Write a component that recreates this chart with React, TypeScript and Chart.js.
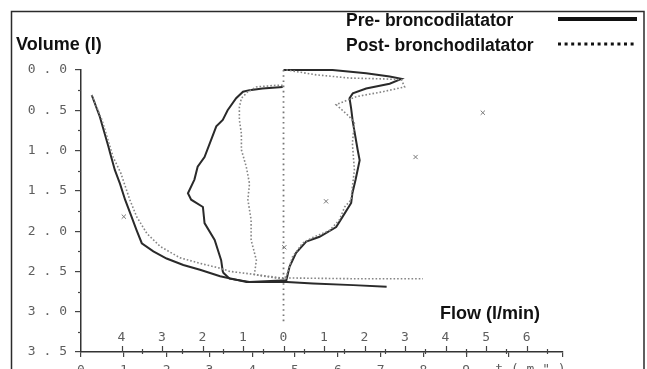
import React, { useEffect, useRef } from 'react';
import { Chart, registerables } from 'chart.js';
Chart.register(...registerables);

// ---- axis ticks / labels ----
const volumeTicks = [0, 0.5, 1, 1.5, 2, 2.5, 3, 3.5];
const flowTickValues = [-4, -3, -2, -1, 0, 1, 2, 3, 4, 5, 6];
const flowTickLabels = ['4', '3', '2', '1', '0', '1', '2', '3', '4', '5', '6'];
const timeTickValues = [0, 1, 2, 3, 4, 5, 6, 7, 8, 9];
const timeUnitLabel = 't(m")';
const yTitle = 'Volume (l)';
const xTitle = 'Flow (l/min)';
const legendLabels = ['Pre- broncodilatator', 'Post- bronchodilatator'];

// ---- pre-bronchodilator flow-volume loop (solid) ----
const preLoopFlow = [0.0, 1.21, 2.04, 2.62, 2.91, 2.62, 2.04, 1.71, 1.63, 1.67, 1.71, 1.83, 1.88, 1.78, 1.7, 1.67, 1.46, 1.3, 0.89, 0.56, 0.31, 0.15, 0.07,
  -0.84, -1.33, -1.48, -1.5, -1.54, -1.7, -1.95, -1.99, -2.28, -2.36, -2.2, -2.12, -1.95, -1.79, -1.66, -1.5, -1.38, -1.17, -1.0, -0.84, -0.52, -0.02];
const preLoopVol = [0.0, 0.0, 0.04, 0.08, 0.11, 0.17, 0.23, 0.29, 0.35, 0.48, 0.64, 0.99, 1.12, 1.36, 1.53, 1.65, 1.82, 1.95, 2.07, 2.13, 2.27, 2.44, 2.61,
  2.63, 2.59, 2.52, 2.5, 2.36, 2.11, 1.9, 1.7, 1.61, 1.53, 1.36, 1.2, 1.08, 0.87, 0.7, 0.62, 0.5, 0.35, 0.27, 0.25, 0.23, 0.21];

// ---- post-bronchodilator flow-volume loop (dotted) ----
const postLoopFlow = [0.07, 0.81, 1.63, 2.44, 2.91, 2.99, 2.45, 1.8, 1.3, 1.63, 1.75, 1.7, 1.75, 1.7, 1.67, 1.51, 1.38, 1.14, 0.72, 0.47, 0.22, 0.1, 0.02,
  -0.22, -0.72, -0.67, -0.8, -0.8, -0.88, -0.84, -0.92, -1.04, -1.04, -1.09, -1.09, -1.04, -0.88, -0.67, -0.18, -0.02];
const postLoopVol = [0.0, 0.06, 0.1, 0.11, 0.12, 0.21, 0.27, 0.33, 0.43, 0.58, 0.66, 0.91, 1.24, 1.45, 1.61, 1.7, 1.86, 1.99, 2.08, 2.15, 2.32, 2.52, 2.59,
  2.58, 2.54, 2.36, 2.11, 1.86, 1.61, 1.41, 1.2, 0.99, 0.79, 0.62, 0.46, 0.35, 0.27, 0.21, 0.19, 0.19];

// ---- volume-time curves ----
const preTime = [0.25, 0.44, 0.64, 0.68, 0.79, 0.91, 1.03, 1.18, 1.3, 1.42, 1.69, 2.0, 2.39, 2.78, 3.25, 3.87, 4.81, 5.42, 6.36, 7.14];
const preTimeVol = [0.31, 0.58, 0.95, 1.03, 1.24, 1.41, 1.61, 1.82, 1.99, 2.15, 2.25, 2.34, 2.42, 2.48, 2.56, 2.63, 2.63, 2.65, 2.67, 2.69];
const postTime = [0.25, 0.49, 0.75, 0.93, 1.14, 1.3, 1.54, 1.85, 2.31, 2.78, 3.25, 3.48, 4.1, 4.65, 6.28, 7.99];
const postTimeVol = [0.31, 0.62, 1.08, 1.28, 1.61, 1.82, 2.03, 2.19, 2.33, 2.4, 2.46, 2.5, 2.54, 2.58, 2.59, 2.59];

// ---- predicted-value markers ----
const predFlow = [0.02, 1.05, 3.26, 4.92];
const predFlowVol = [2.2, 1.63, 1.08, 0.53];
const predTime = [1.0];
const predTimeVol = [1.82];

// ---- zero-flow reference line ----
const zeroFlow = [0, 0];
const zeroFlowVol = [0, 3.15];

const pts = (xs: number[], ys: number[]) => xs.map((x, i) => ({ x, y: ys[i] }));

const SOLID = '#2a2a2a';
const DOT = '#858585';
const TICK_FONT = '"DejaVu Sans Mono", monospace';
const TITLE_FONT = '"Liberation Sans", Arial, sans-serif';

const decorPlugin = {
  id: 'decor',
  afterDraw(chart: any) {
    const ctx = chart.ctx;
    const xf = chart.scales.x;
    const y = chart.scales.y;
    const t = chart.scales.t;
    const area = chart.chartArea;
    ctx.save();
    // frame
    ctx.strokeStyle = '#2b2b2b';
    ctx.lineWidth = 1.5;
    ctx.beginPath();
    ctx.moveTo(11.5, 400);
    ctx.lineTo(11.5, 11.5);
    ctx.lineTo(644, 11.5);
    ctx.lineTo(644, 400);
    ctx.stroke();

    // minor y ticks
    ctx.strokeStyle = '#444';
    ctx.lineWidth = 1.2;
    for (let i = 0; i < volumeTicks.length - 1; i++) {
      const v = (volumeTicks[i] + volumeTicks[i + 1]) / 2;
      const py = Math.round(y.getPixelForValue(v)) + 0.5;
      ctx.beginPath();
      ctx.moveTo(area.left - 3, py);
      ctx.lineTo(area.left, py);
      ctx.stroke();
    }

    // flow ticks above the bottom axis
    const by = area.bottom;
    flowTickValues.forEach((v) => {
      const px = Math.round(xf.getPixelForValue(v)) + 0.5;
      ctx.beginPath();
      ctx.moveTo(px, by - 6);
      ctx.lineTo(px, by);
      ctx.stroke();
      const ph = Math.round(xf.getPixelForValue(v + 0.5)) + 0.5;
      if (ph < area.right) {
        ctx.beginPath();
        ctx.moveTo(ph, by - 3);
        ctx.lineTo(ph, by + 2);
        ctx.stroke();
      }
    });
    ctx.fillStyle = '#5e5e5e';
    ctx.font = `13px ${TICK_FONT}`;
    ctx.textAlign = 'center';
    ctx.textBaseline = 'middle';
    flowTickValues.forEach((v, i) => {
      ctx.fillText(flowTickLabels[i], xf.getPixelForValue(v), by - 14);
    });
    // time unit label
    ctx.textBaseline = 'top';
    ctx.fillText(timeUnitLabel.split('').join(' '), t.getPixelForValue(10.5), by + 11);

    // titles
    ctx.fillStyle = '#111';
    ctx.textAlign = 'left';
    ctx.textBaseline = 'alphabetic';
    ctx.font = `bold 18px ${TITLE_FONT}`;
    ctx.fillText(yTitle, 16, 50);
    ctx.fillText(xTitle, 440, 319);

    // legend
    ctx.font = `bold 17.5px ${TITLE_FONT}`;
    ctx.fillText(legendLabels[0], 346, 26);
    ctx.fillText(legendLabels[1], 346, 51);
    ctx.strokeStyle = '#111';
    ctx.lineWidth = 4;
    ctx.beginPath();
    ctx.moveTo(558, 19);
    ctx.lineTo(637, 19);
    ctx.stroke();
    ctx.lineWidth = 3;
    ctx.setLineDash([3, 3.6]);
    ctx.beginPath();
    ctx.moveTo(558, 44);
    ctx.lineTo(637, 44);
    ctx.stroke();
    ctx.restore();
  },
};

export default function App() {
  const ref = useRef<HTMLCanvasElement>(null);
  useEffect(() => {
    if (!ref.current) return;
    const lineDs = (label: string, data: any[], xAxisID: string, dotted: boolean, extra: any = {}) => ({
      label,
      data,
      xAxisID,
      showLine: true,
      pointRadius: 0,
      borderColor: dotted ? DOT : SOLID,
      borderWidth: dotted ? 1.6 : 2,
      borderDash: dotted ? [1.6, 2] : [],
      tension: 0,
      fill: false,
      clip: false,
      ...extra,
    });
    const chart = new Chart(ref.current, {
      type: 'scatter',
      data: {
        datasets: [
          lineDs('zero', pts(zeroFlow, zeroFlowVol), 'x', true, { borderDash: [1.6, 3.6], borderWidth: 1.8, borderColor: '#777' }),
          lineDs('post loop', pts(postLoopFlow, postLoopVol), 'x', true),
          lineDs('post time', pts(postTime, postTimeVol), 't', true),
          lineDs('pre loop', pts(preLoopFlow, preLoopVol), 'x', false),
          lineDs('pre time', pts(preTime, preTimeVol), 't', false),
          {
            label: 'pred flow',
            data: pts(predFlow, predFlowVol),
            xAxisID: 'x',
            pointStyle: 'crossRot',
            pointRadius: 3,
            borderWidth: 1,
            borderColor: '#777',
            showLine: false,
          },
          {
            label: 'pred time',
            data: pts(predTime, predTimeVol),
            xAxisID: 't',
            pointStyle: 'crossRot',
            pointRadius: 3,
            borderWidth: 1,
            borderColor: '#777',
            showLine: false,
          },
        ],
      },
      options: {
        animation: false,
        responsive: false,
        layout: { padding: { left: 0, right: 84, top: 70, bottom: 0 } },
        plugins: { legend: { display: false }, tooltip: { enabled: false } },
        scales: {
          x: { type: 'linear', display: false, min: -5, max: 6.9 },
          t: {
            type: 'linear',
            position: 'bottom',
            min: 0,
            max: 11.26,
            afterFit: (s: any) => { s.height = 17; },
            border: { display: true, color: '#333', width: 1.5 },
            grid: { drawOnChartArea: false, color: '#444', lineWidth: 1.2, tickLength: 5 },
            ticks: {
              stepSize: 1,
              autoSkip: false,
              maxRotation: 0,
              padding: 6,
              color: '#5e5e5e',
              font: { family: TICK_FONT, size: 13 },
              callback: (v: any) => (timeTickValues.includes(Number(v)) ? String(v) : ''),
            },
          },
          y: {
            type: 'linear',
            reverse: true,
            min: 0,
            max: 3.5,
            afterFit: (s: any) => { s.width = 81; },
            border: { display: true, color: '#333', width: 1.5 },
            grid: { drawOnChartArea: false, color: '#444', lineWidth: 1.2, tickLength: 6 },
            afterBuildTicks: (s: any) => { s.ticks = volumeTicks.map((value) => ({ value })); },
            ticks: {
              padding: 8,
              color: '#5e5e5e',
              font: { family: TICK_FONT, size: 13 },
              callback: (v: any) => Number(v).toFixed(1).split('').join(' '),
            },
          },
        },
      },
      plugins: [decorPlugin],
    } as any);
    return () => chart.destroy();
  }, []);
  return (
    <div style={{ position: 'fixed', left: 0, top: 0, width: 647, height: 369, background: '#fff' }}>
      <canvas ref={ref} width={647} height={369} style={{ width: 647, height: 369, display: 'block' }} />
    </div>
  );
}
